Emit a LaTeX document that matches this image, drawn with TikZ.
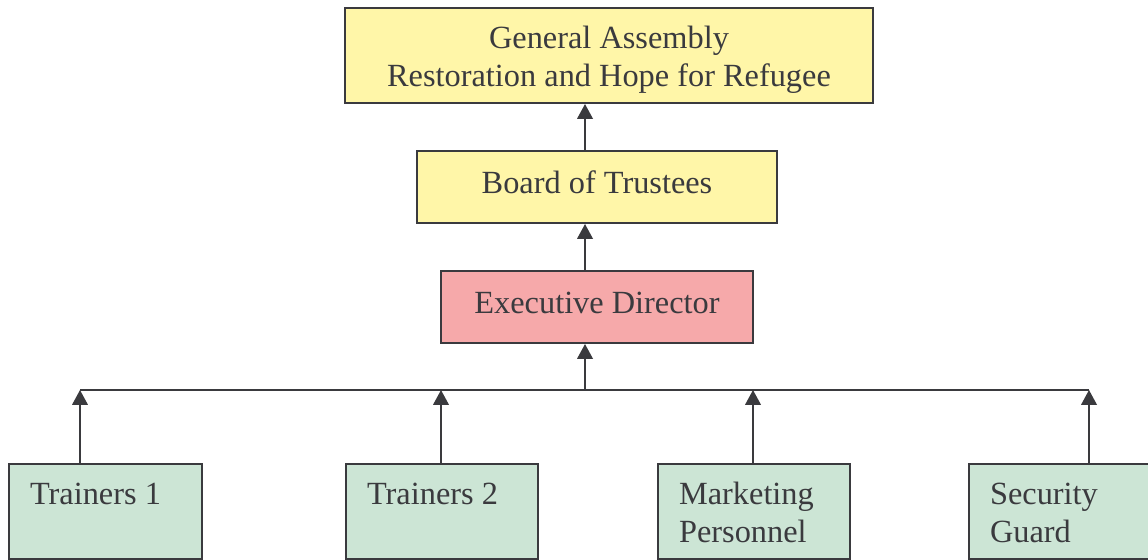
\documentclass[tikz,border=0pt]{standalone}
\usepackage{fontspec}
\setmainfont{Liberation Serif}
\usetikzlibrary{arrows.meta,positioning}
\definecolor{boxyellow}{HTML}{FFF6A8}
\definecolor{boxpink}{HTML}{F6A9AA}
\definecolor{boxgreen}{HTML}{CCE5D5}
\definecolor{linegray}{HTML}{3A3A3E}
\newcommand{\toptext}[2]{\parbox[t][1.67cm][t]{#1}{\strut #2}}

\begin{document}
\begin{tikzpicture}[x=0.025cm, y=-0.025cm]
	\tikzstyle{every node}=[font=\fontsize{23}{26.8}\selectfont, text=linegray]
	\tikzstyle{box}=[draw=linegray, line width=1.4pt, inner sep=0pt]
	\tikzstyle{midbox}=[box, minimum height=1.8cm, text height=15.5pt, text depth=6pt]
	\tikzstyle{lowbox}=[box, fill=boxgreen, anchor=north west, inner xsep=15pt, inner ysep=10pt]
	\tikzstyle{link}=[line width=1.4pt, draw=linegray, -{Triangle[width=11pt,length=10.5pt]}]
	\useasboundingbox (0,0) rectangle (1148,559);
	\clip (0,0) rectangle (1148,559);
	% upper boxes
	\node[box, fill=boxyellow, minimum width=13.2cm, minimum height=2.375cm, align=center] (assembly) at (609,55.5) {\rule{0pt}{22.5pt}General Assembly\\Restoration and Hope for Refugee};
	\node[midbox, fill=boxyellow, minimum width=9cm] (board) at (597,187) {Board of Trustees};
	\node[midbox, fill=boxpink, minimum width=7.8cm] (director) at (597,307) {Executive Director};
	% staff
	\node[lowbox] (trainA) at (8,463) {\toptext{3.77cm}{Trainers 1}};
	\node[lowbox] (trainB) at (345,463) {\toptext{3.75cm}{Trainers 2}};
	\node[lowbox] (market) at (657,463) {\toptext{3.75cm}{Marketing\\Personnel}};
	\node[lowbox] (guard) at (968,463) {\toptext{3.75cm}{Security\\Guard}};
	% bus line
	\coordinate (spine) at (585,390);
	\coordinate (busA) at (80,390);
	\coordinate (busB) at (441,390);
	\coordinate (busC) at (753,390);
	\coordinate (busD) at (1089,390);
	\draw[line width=1.4pt, linegray] (busA) -- (busD);
	% arrows
	\draw[link] (board.north -| spine) -- (assembly.south -| spine);
	\draw[link] (director.north -| spine) -- (board.south -| spine);
	\draw[link] (spine) -- (director.south -| spine);
	\draw[link] (trainA.north -| busA) -- (busA);
	\draw[link] (trainB.north -| busB) -- (busB);
	\draw[link] (market.north -| busC) -- (busC);
	\draw[link] (guard.north -| busD) -- (busD);
\end{tikzpicture}
\end{document}
